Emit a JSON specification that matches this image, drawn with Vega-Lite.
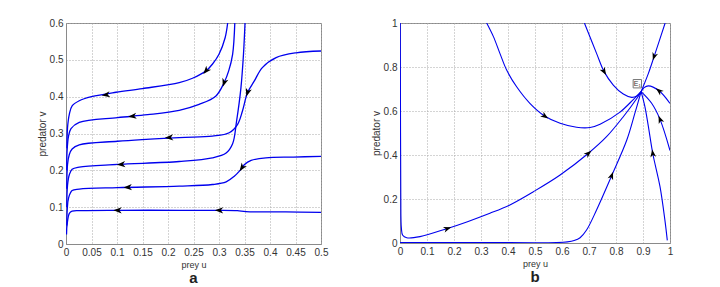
{
  "$schema": "https://vega.github.io/schema/vega-lite/v6.json",
  "background": "white",
  "padding": {"left": 36, "top": 17, "right": 0, "bottom": 0},
  "config": {
    "view": {"stroke": "#8a8a8a", "strokeWidth": 1},
    "concat": {"spacing": 41},
    "axis": {
      "grid": true, "gridColor": "#a8a8a8", "gridDash": [1, 2], "gridWidth": 1,
      "domainColor": "#8a8a8a", "ticks": false,
      "labelFont": "Liberation Sans Narrow, Liberation Sans, sans-serif", "labelFontSize": 10, "labelColor": "#333333",
      "titleFont": "Liberation Sans Narrow, Liberation Sans, sans-serif", "titleFontWeight": "normal", "titleColor": "#333333",
      "labelPadding": 3
    },
    "title": {"font": "Liberation Sans, sans-serif", "fontSize": 15, "fontWeight": "bold", "color": "#222222"}
  },
  "datasets": {
    "curvesA": [
      {"c": "A", "i": 0, "u": 0.5, "v": 0.086}, {"c": "A", "i": 1, "u": 0.431, "v": 0.087}, {"c": "A", "i": 2, "u": 0.353, "v": 0.0878}, {"c": "A", "i": 3, "u": 0.336, "v": 0.0905}, {"c": "A", "i": 4, "u": 0.3, "v": 0.0915}, {"c": "A", "i": 5, "u": 0.222, "v": 0.0915}, {"c": "A", "i": 6, "u": 0.101, "v": 0.0915}, {"c": "A", "i": 7, "u": 0.026, "v": 0.0905}, {"c": "A", "i": 8, "u": 0.012, "v": 0.089}, {"c": "A", "i": 9, "u": 0.0065, "v": 0.083}, {"c": "A", "i": 10, "u": 0.003, "v": 0.062}, {"c": "A", "i": 11, "u": 0.001, "v": 0.026},
      {"c": "B", "i": 0, "u": 0.5, "v": 0.238}, {"c": "B", "i": 1, "u": 0.446, "v": 0.236}, {"c": "B", "i": 2, "u": 0.392, "v": 0.234}, {"c": "B", "i": 3, "u": 0.363, "v": 0.227}, {"c": "B", "i": 4, "u": 0.35, "v": 0.216}, {"c": "B", "i": 5, "u": 0.34, "v": 0.198}, {"c": "B", "i": 6, "u": 0.33, "v": 0.184}, {"c": "B", "i": 7, "u": 0.314, "v": 0.1686}, {"c": "B", "i": 8, "u": 0.287, "v": 0.1615}, {"c": "B", "i": 9, "u": 0.222, "v": 0.157}, {"c": "B", "i": 10, "u": 0.101, "v": 0.153}, {"c": "B", "i": 11, "u": 0.026, "v": 0.149}, {"c": "B", "i": 12, "u": 0.012, "v": 0.145}, {"c": "B", "i": 13, "u": 0.005, "v": 0.125}, {"c": "B", "i": 14, "u": 0.0025, "v": 0.095}, {"c": "B", "i": 15, "u": 0.0015, "v": 0.05},
      {"c": "C", "i": 0, "u": 0.351, "v": 0.6}, {"c": "C", "i": 1, "u": 0.348, "v": 0.515}, {"c": "C", "i": 2, "u": 0.343, "v": 0.424}, {"c": "C", "i": 3, "u": 0.3345, "v": 0.334}, {"c": "C", "i": 4, "u": 0.3267, "v": 0.272}, {"c": "C", "i": 5, "u": 0.314, "v": 0.247}, {"c": "C", "i": 6, "u": 0.287, "v": 0.234}, {"c": "C", "i": 7, "u": 0.222, "v": 0.224}, {"c": "C", "i": 8, "u": 0.101, "v": 0.216}, {"c": "C", "i": 9, "u": 0.026, "v": 0.209}, {"c": "C", "i": 10, "u": 0.012, "v": 0.203}, {"c": "C", "i": 11, "u": 0.0065, "v": 0.188}, {"c": "C", "i": 12, "u": 0.003, "v": 0.16}, {"c": "C", "i": 13, "u": 0.0015, "v": 0.1},
      {"c": "D", "i": 0, "u": 0.5, "v": 0.524}, {"c": "D", "i": 1, "u": 0.451, "v": 0.519}, {"c": "D", "i": 2, "u": 0.412, "v": 0.506}, {"c": "D", "i": 3, "u": 0.385, "v": 0.479}, {"c": "D", "i": 4, "u": 0.369, "v": 0.442}, {"c": "D", "i": 5, "u": 0.356, "v": 0.411}, {"c": "D", "i": 6, "u": 0.346, "v": 0.361}, {"c": "D", "i": 7, "u": 0.3365, "v": 0.325}, {"c": "D", "i": 8, "u": 0.32, "v": 0.302}, {"c": "D", "i": 9, "u": 0.287, "v": 0.293}, {"c": "D", "i": 10, "u": 0.222, "v": 0.289}, {"c": "D", "i": 11, "u": 0.101, "v": 0.279}, {"c": "D", "i": 12, "u": 0.026, "v": 0.269}, {"c": "D", "i": 13, "u": 0.012, "v": 0.258}, {"c": "D", "i": 14, "u": 0.0065, "v": 0.243}, {"c": "D", "i": 15, "u": 0.003, "v": 0.216}, {"c": "D", "i": 16, "u": 0.0015, "v": 0.15},
      {"c": "E", "i": 0, "u": 0.331, "v": 0.6}, {"c": "E", "i": 1, "u": 0.3267, "v": 0.515}, {"c": "E", "i": 2, "u": 0.319, "v": 0.47}, {"c": "E", "i": 3, "u": 0.31, "v": 0.438}, {"c": "E", "i": 4, "u": 0.294, "v": 0.402}, {"c": "E", "i": 5, "u": 0.261, "v": 0.379}, {"c": "E", "i": 6, "u": 0.222, "v": 0.363}, {"c": "E", "i": 7, "u": 0.16, "v": 0.351}, {"c": "E", "i": 8, "u": 0.101, "v": 0.343}, {"c": "E", "i": 9, "u": 0.026, "v": 0.33}, {"c": "E", "i": 10, "u": 0.0098, "v": 0.313}, {"c": "E", "i": 11, "u": 0.005, "v": 0.293}, {"c": "E", "i": 12, "u": 0.002, "v": 0.25}, {"c": "E", "i": 13, "u": 0.0015, "v": 0.2},
      {"c": "F", "i": 0, "u": 0.317, "v": 0.6}, {"c": "F", "i": 1, "u": 0.312, "v": 0.56}, {"c": "F", "i": 2, "u": 0.3, "v": 0.515}, {"c": "F", "i": 3, "u": 0.287, "v": 0.488}, {"c": "F", "i": 4, "u": 0.2745, "v": 0.47}, {"c": "F", "i": 5, "u": 0.248, "v": 0.45}, {"c": "F", "i": 6, "u": 0.222, "v": 0.438}, {"c": "F", "i": 7, "u": 0.15, "v": 0.422}, {"c": "F", "i": 8, "u": 0.098, "v": 0.412}, {"c": "F", "i": 9, "u": 0.05, "v": 0.4}, {"c": "F", "i": 10, "u": 0.026, "v": 0.389}, {"c": "F", "i": 11, "u": 0.012, "v": 0.375}, {"c": "F", "i": 12, "u": 0.0065, "v": 0.352}, {"c": "F", "i": 13, "u": 0.003, "v": 0.316}, {"c": "F", "i": 14, "u": 0.0018, "v": 0.26}
    ],
    "arrowsA": [
      {"u": 0.2745, "v": 0.47, "dir": 130},
      {"u": 0.078, "v": 0.405, "dir": 172},
      {"u": 0.31, "v": 0.438, "dir": 108},
      {"u": 0.13, "v": 0.347, "dir": 174},
      {"u": 0.356, "v": 0.411, "dir": 107},
      {"u": 0.202, "v": 0.289, "dir": 176},
      {"u": 0.108, "v": 0.216, "dir": 176},
      {"u": 0.345, "v": 0.207, "dir": 124},
      {"u": 0.121, "v": 0.154, "dir": 177},
      {"u": 0.101, "v": 0.0915, "dir": 180},
      {"u": 0.3, "v": 0.0915, "dir": 180}
    ],
    "curvesB": [
      {"c": "1", "i": 0, "u": 0.001, "v": 1.0}, {"c": "1", "i": 1, "u": 0.002, "v": 0.5}, {"c": "1", "i": 2, "u": 0.003, "v": 0.2}, {"c": "1", "i": 3, "u": 0.005, "v": 0.07}, {"c": "1", "i": 4, "u": 0.01, "v": 0.035}, {"c": "1", "i": 5, "u": 0.025, "v": 0.024}, {"c": "1", "i": 6, "u": 0.074, "v": 0.029}, {"c": "1", "i": 7, "u": 0.173, "v": 0.065}, {"c": "1", "i": 8, "u": 0.25, "v": 0.097}, {"c": "1", "i": 9, "u": 0.333, "v": 0.135}, {"c": "1", "i": 10, "u": 0.407, "v": 0.173}, {"c": "1", "i": 11, "u": 0.494, "v": 0.233}, {"c": "1", "i": 12, "u": 0.593, "v": 0.309}, {"c": "1", "i": 13, "u": 0.698, "v": 0.408}, {"c": "1", "i": 14, "u": 0.765, "v": 0.483}, {"c": "1", "i": 15, "u": 0.827, "v": 0.574}, {"c": "1", "i": 16, "u": 0.877, "v": 0.657}, {"c": "1", "i": 17, "u": 0.893, "v": 0.688},
      {"c": "2", "i": 0, "u": 0.0, "v": 0.002}, {"c": "2", "i": 1, "u": 0.3, "v": 0.002}, {"c": "2", "i": 2, "u": 0.58, "v": 0.002}, {"c": "2", "i": 3, "u": 0.62, "v": 0.005}, {"c": "2", "i": 4, "u": 0.645, "v": 0.011}, {"c": "2", "i": 5, "u": 0.667, "v": 0.024}, {"c": "2", "i": 6, "u": 0.691, "v": 0.059}, {"c": "2", "i": 7, "u": 0.728, "v": 0.15}, {"c": "2", "i": 8, "u": 0.784, "v": 0.306}, {"c": "2", "i": 9, "u": 0.84, "v": 0.468}, {"c": "2", "i": 10, "u": 0.87, "v": 0.59}, {"c": "2", "i": 11, "u": 0.893, "v": 0.688},
      {"c": "3", "i": 0, "u": 0.321, "v": 1.0}, {"c": "3", "i": 1, "u": 0.346, "v": 0.938}, {"c": "3", "i": 2, "u": 0.37, "v": 0.862}, {"c": "3", "i": 3, "u": 0.395, "v": 0.786}, {"c": "3", "i": 4, "u": 0.432, "v": 0.71}, {"c": "3", "i": 5, "u": 0.481, "v": 0.635}, {"c": "3", "i": 6, "u": 0.537, "v": 0.576}, {"c": "3", "i": 7, "u": 0.593, "v": 0.544}, {"c": "3", "i": 8, "u": 0.654, "v": 0.526}, {"c": "3", "i": 9, "u": 0.704, "v": 0.525}, {"c": "3", "i": 10, "u": 0.741, "v": 0.54}, {"c": "3", "i": 11, "u": 0.815, "v": 0.595}, {"c": "3", "i": 12, "u": 0.864, "v": 0.652}, {"c": "3", "i": 13, "u": 0.893, "v": 0.688},
      {"c": "4", "i": 0, "u": 0.683, "v": 1.0}, {"c": "4", "i": 1, "u": 0.728, "v": 0.862}, {"c": "4", "i": 2, "u": 0.756, "v": 0.779}, {"c": "4", "i": 3, "u": 0.79, "v": 0.718}, {"c": "4", "i": 4, "u": 0.827, "v": 0.677}, {"c": "4", "i": 5, "u": 0.858, "v": 0.662}, {"c": "4", "i": 6, "u": 0.877, "v": 0.668}, {"c": "4", "i": 7, "u": 0.893, "v": 0.688},
      {"c": "5", "i": 0, "u": 0.982, "v": 1.0}, {"c": "5", "i": 1, "u": 0.941, "v": 0.847}, {"c": "5", "i": 2, "u": 0.92, "v": 0.771}, {"c": "5", "i": 3, "u": 0.893, "v": 0.688},
      {"c": "6", "i": 0, "u": 1.0, "v": 0.635}, {"c": "6", "i": 1, "u": 0.959, "v": 0.692}, {"c": "6", "i": 2, "u": 0.92, "v": 0.714}, {"c": "6", "i": 3, "u": 0.904, "v": 0.706}, {"c": "6", "i": 4, "u": 0.893, "v": 0.688},
      {"c": "7", "i": 0, "u": 1.0, "v": 0.42}, {"c": "7", "i": 1, "u": 0.963, "v": 0.562}, {"c": "7", "i": 2, "u": 0.932, "v": 0.635}, {"c": "7", "i": 3, "u": 0.893, "v": 0.688},
      {"c": "8", "i": 0, "u": 0.99, "v": 0.012}, {"c": "8", "i": 1, "u": 0.981, "v": 0.105}, {"c": "8", "i": 2, "u": 0.963, "v": 0.256}, {"c": "8", "i": 3, "u": 0.936, "v": 0.408}, {"c": "8", "i": 4, "u": 0.92, "v": 0.529}, {"c": "8", "i": 5, "u": 0.907, "v": 0.62}, {"c": "8", "i": 6, "u": 0.893, "v": 0.688}
    ],
    "arrowsB": [
      {"u": 0.176, "v": 0.066, "dir": -18},
      {"u": 0.698, "v": 0.408, "dir": -42},
      {"u": 0.784, "v": 0.306, "dir": -70},
      {"u": 0.537, "v": 0.576, "dir": 35},
      {"u": 0.756, "v": 0.779, "dir": 60},
      {"u": 0.941, "v": 0.847, "dir": 108},
      {"u": 0.959, "v": 0.692, "dir": -141},
      {"u": 0.963, "v": 0.562, "dir": -112},
      {"u": 0.936, "v": 0.408, "dir": -98}
    ],
    "labelB": [{"u": 0.879, "v": 0.724, "t": "E₁"}]
  },
  "hconcat": [
    {
      "width": 255, "height": 221,
      "title": {"text": "a", "orient": "bottom", "offset": 2},
      "encoding": {
        "x": {"field": "u", "type": "quantitative", "scale": {"domain": [0, 0.5], "nice": false, "zero": false},
              "axis": {"values": [0, 0.05, 0.1, 0.15, 0.2, 0.25, 0.3, 0.35, 0.4, 0.45, 0.5], "labelOverlap": false, "labelFlush": false, "labelSeparation": 0, "labelBound": false, "labelExpr": "format(datum.value, '~g')", "title": "prey u", "titleFontSize": 9, "titlePadding": 3}},
        "y": {"field": "v", "type": "quantitative", "scale": {"domain": [0, 0.6], "nice": false, "zero": false},
              "axis": {"values": [0, 0.1, 0.2, 0.3, 0.4, 0.5, 0.6], "labelOverlap": false, "labelFlush": false, "labelSeparation": 0, "labelBound": false, "labelExpr": "format(datum.value, '~g')", "title": "predator v", "titleFontSize": 10, "titlePadding": 2}}
      },
      "layer": [
        {
          "data": {"name": "curvesA"},
          "mark": {"type": "line", "color": "#0000ee", "strokeWidth": 1.3, "interpolate": "catmull-rom", "clip": true},
          "encoding": {
            "detail": {"field": "c"},
            "order": {"field": "i", "type": "quantitative"}
          }
        },
        {
          "data": {"name": "arrowsA"},
          "mark": {"type": "point", "shape": "M1,0L-1,-0.75L-0.45,0L-1,0.75Z", "filled": true, "color": "#000000", "opacity": 1, "size": 70},
          "encoding": {
            "angle": {"field": "dir", "type": "quantitative", "scale": null}
          }
        }
      ]
    },
    {
      "width": 270, "height": 220,
      "title": {"text": "b", "orient": "bottom", "offset": 2},
      "encoding": {
        "x": {"field": "u", "type": "quantitative", "scale": {"domain": [0, 1], "nice": false, "zero": false},
              "axis": {"values": [0, 0.1, 0.2, 0.3, 0.4, 0.5, 0.6, 0.7, 0.8, 0.9, 1], "labelOverlap": false, "labelFlush": false, "labelSeparation": 0, "labelBound": false, "labelExpr": "format(datum.value, '~g')", "title": "prey u", "titleFontSize": 9, "titlePadding": 3}},
        "y": {"field": "v", "type": "quantitative", "scale": {"domain": [0, 1], "nice": false, "zero": false},
              "axis": {"values": [0, 0.2, 0.4, 0.6, 0.8, 1], "labelOverlap": false, "labelFlush": false, "labelSeparation": 0, "labelBound": false, "labelExpr": "format(datum.value, '~g')", "title": "predator v", "titleFontSize": 10, "titlePadding": 2}}
      },
      "layer": [
        {
          "data": {"name": "curvesB"},
          "mark": {"type": "line", "color": "#0000ee", "strokeWidth": 1.1, "interpolate": "catmull-rom", "clip": true},
          "encoding": {
            "detail": {"field": "c"},
            "order": {"field": "i", "type": "quantitative"}
          }
        },
        {
          "data": {"name": "arrowsB"},
          "mark": {"type": "point", "shape": "M1,0L-1,-0.75L-0.45,0L-1,0.75Z", "filled": true, "color": "#000000", "opacity": 1, "size": 60},
          "encoding": {
            "angle": {"field": "dir", "type": "quantitative", "scale": null}
          }
        },
        {
          "data": {"name": "labelB"},
          "mark": {"type": "point", "shape": "square", "size": 70, "fill": "#ffffff", "stroke": "#777777", "strokeWidth": 1, "opacity": 1, "filled": false, "fillOpacity": 1}
        },
        {
          "data": {"name": "labelB"},
          "mark": {"type": "text", "fontSize": 7, "color": "#333333", "font": "Liberation Sans Narrow, Liberation Sans, sans-serif", "baseline": "middle", "align": "center"},
          "encoding": {
            "text": {"field": "t"}
          }
        }
      ]
    }
  ]
}
